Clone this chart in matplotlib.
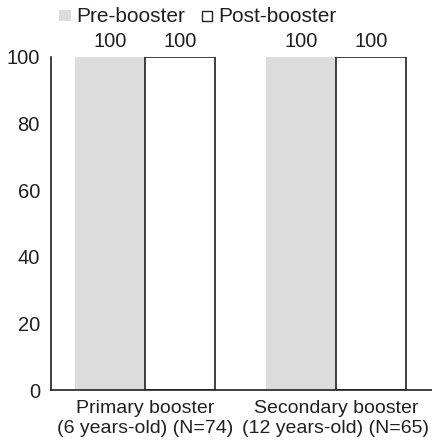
import numpy as np
import matplotlib
matplotlib.use("Agg")
import matplotlib.pyplot as plt
from matplotlib.patches import Rectangle

plt.rcParams['font.family'] = ['Liberation Sans', 'DejaVu Sans']

# Daten
gruppen = ["Primary booster\n(6 years-old) (N=74)", "Secondary booster\n(12 years-old) (N=65)"]
pre = [100, 100]
post = [100, 100]
serien = ["Pre-booster", "Post-booster"]

grau = "#dcdcdc"
dunkel = "#231f20"
fs = 14

fig = plt.figure(figsize=(4.32, 4.44), dpi=100)
ax = fig.add_axes([51 / 432, 54 / 444, 381 / 432, 333 / 444])

x = np.arange(len(gruppen))
w = 0.366
b1 = ax.bar(x - w / 2, pre, w, color=grau, linewidth=0)
b2 = ax.bar(x + w / 2, post, w, facecolor="white", edgecolor=dunkel, linewidth=1.2)

# Werte ueber den Balken
for bars in (b1, b2):
    for r in bars:
        ax.text(r.get_x() + r.get_width() / 2, r.get_height() + 3, f"{r.get_height():.0f}",
                ha="center", va="baseline", fontsize=fs + 0.5, color=dunkel)

ax.set_xlim(-0.492, 1.503)
ax.set_ylim(0, 100)
ax.set_yticks([0, 20, 40, 60, 80, 100])
ax.set_xticks(x)
ax.set_xticklabels(gruppen, fontsize=fs, color=dunkel, linespacing=1.22)
ax.tick_params(axis="both", length=0, labelsize=fs, colors=dunkel)
ax.tick_params(axis="y", pad=8, labelsize=fs + 0.5)
ax.tick_params(axis="x", pad=7)
for s in ["top", "right"]:
    ax.spines[s].set_visible(False)
for s in ["left", "bottom"]:
    ax.spines[s].set_color(dunkel)
    ax.spines[s].set_linewidth(1.2)

# Legende von Hand
fig.patches.append(Rectangle((59 / 432, 1 - 21 / 444), 12 / 432, 11 / 444,
                             transform=fig.transFigure, facecolor=grau, edgecolor="none"))
fig.text(76 / 432, 1 - 22 / 444, serien[0], fontsize=15, va="baseline", color=dunkel)
fig.patches.append(Rectangle((202 / 432, 1 - 21 / 444), 10 / 432, 10 / 444,
                             transform=fig.transFigure, facecolor="white", edgecolor=dunkel, linewidth=1))
fig.text(218 / 432, 1 - 22 / 444, serien[1], fontsize=15, va="baseline", color=dunkel)

fig.savefig("out.png", dpi=100)
